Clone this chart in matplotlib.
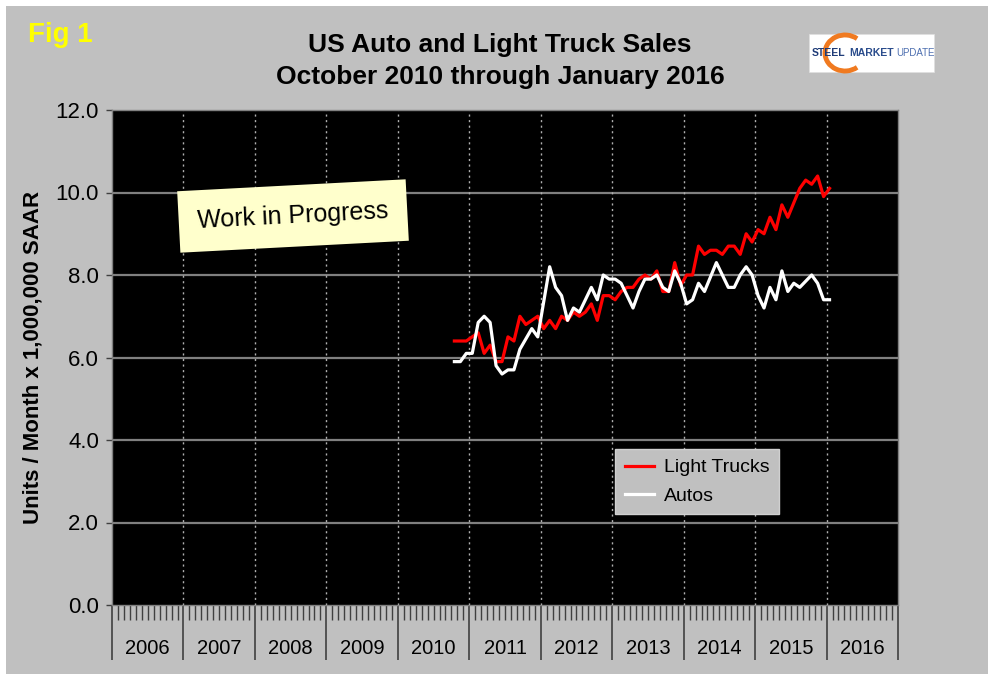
import matplotlib
matplotlib.use("Agg")
import matplotlib.pyplot as plt
from matplotlib.patches import Rectangle, Arc
import matplotlib.transforms as mtransforms
import numpy as np
import pandas as pd

plt.rcParams['font.family'] = ['Liberation Sans', 'DejaVu Sans']

# ---- data (millions of units / month, SAAR) ----
start_month = "2010-10"
end_month = "2016-01"
light_trucks = [6.4, 6.4, 6.4, 6.5, 6.6, 6.1, 6.3, 5.9, 5.9, 6.5, 6.4, 7.0,
                6.8, 6.9, 7.0, 6.7, 6.9, 6.7, 7.0, 6.9, 7.1, 7.0, 7.1, 7.3,
                6.9, 7.5, 7.5, 7.4, 7.6, 7.7, 7.7, 7.9, 8.0, 7.9, 8.1, 7.6,
                7.6, 8.3, 7.75, 8.0, 8.0, 8.7, 8.5, 8.6, 8.6, 8.5, 8.7, 8.7,
                8.5, 9.0, 8.8, 9.1, 9.0, 9.4, 9.1, 9.7, 9.4, 9.75, 10.1, 10.3,
                10.2, 10.4, 9.9, 10.1]
autos = [5.9, 5.9, 6.1, 6.1, 6.85, 7.0, 6.85, 5.8, 5.6, 5.7, 5.7, 6.2,
         6.45, 6.7, 6.5, 7.35, 8.2, 7.7, 7.5, 6.9, 7.2, 7.1, 7.4, 7.7,
         7.4, 8.0, 7.9, 7.9, 7.8, 7.5, 7.2, 7.6, 7.9, 7.9, 8.0, 7.7,
         7.6, 8.1, 7.8, 7.3, 7.4, 7.8, 7.6, 7.95, 8.3, 8.0, 7.7, 7.7,
         8.0, 8.2, 8.0, 7.5, 7.2, 7.7, 7.4, 8.1, 7.6, 7.8, 7.7, 7.85,
         8.0, 7.8, 7.4, 7.4]
years = list(range(2006, 2017))
y_ticks = [0, 2, 4, 6, 8, 10, 12]

months = pd.period_range(start_month, end_month, freq="M")
first_year = years[0]
xpos = np.array([(p.year - first_year) * 12 + (p.month - 1) + 0.5 for p in months])
nmonths = len(years) * 12

W, H = 996, 681
PX = 72 / 100  # points per pixel
fig = plt.figure(figsize=(W / 100, H / 100), dpi=100, facecolor="white")
fig.add_artist(Rectangle((6 / W, 1 - 674 / H), (988 - 6) / W, (674 - 6) / H,
                         transform=fig.transFigure, facecolor="#c0c0c0",
                         edgecolor="none", zorder=-10))

ax = fig.add_axes([112 / W, 1 - 605 / H, (898 - 112) / W, (605 - 110) / H])
ax.set_facecolor("black")
ax.set_xlim(0, nmonths)
ax.set_ylim(0, 12)

# grid
for yv in y_ticks[1:-1]:
    ax.axhline(yv, color="#808080", lw=1.6, zorder=1)
for k in range(1, len(years)):
    ax.axvline(k * 12, color="#b0b0b0", lw=1.0, ls=(0, (1.5, 2.5)), zorder=1)

ax.plot(xpos, light_trucks, color="#ff0000", lw=2.3, label="Light Trucks", zorder=3)
ax.plot(xpos, autos, color="white", lw=2.3, label="Autos", zorder=4)

# y axis
ax.set_yticks(y_ticks)
ax.set_yticklabels([f"{v:.1f}" for v in y_ticks], fontsize=16)
ax.tick_params(axis="y", direction="out", length=6 * PX, width=1, color="#404040", pad=5)

# x axis: year separators and month ticks
ax.set_xticks([k * 12 for k in range(len(years) + 1)])
ax.set_xticklabels([])
ax.set_xticks(np.arange(0, nmonths + 1), minor=True)
ax.tick_params(axis="x", which="major", direction="out", length=55 * PX, width=1.2, color="#404040")
ax.tick_params(axis="x", which="minor", direction="out", length=15 * PX, width=1, color="#404040")
trans = mtransforms.blended_transform_factory(ax.transData, ax.transAxes)
for k, yr in enumerate(years):
    ax.text(k * 12 + 6, -0.087, str(yr), transform=trans, ha="center", va="center",
            fontsize=14.5, color="black")

for s in ax.spines.values():
    s.set_color("#808080")
    s.set_linewidth(1)

# legend
leg = ax.legend(loc="upper left", bbox_to_anchor=(0.640, 0.315), borderaxespad=0,
                fontsize=14, frameon=True, fancybox=False, facecolor="#c0c0c0",
                edgecolor="#d0d0d0", framealpha=1, handlelength=1.5,
                borderpad=0.5, labelspacing=0.55, handletextpad=0.5)
leg.get_frame().set_linewidth(1)
for t in leg.get_texts():
    t.set_color("black")

# labels / titles
fig.text(33 / W, 1 - 357 / H, "Units / Month x 1,000,000 SAAR", rotation=90,
         ha="center", va="center", fontsize=16, fontweight="bold")
fig.text(500 / W, 1 - 45 / H, "US Auto and Light Truck Sales", ha="center",
         va="center", fontsize=19, fontweight="bold")
fig.text(500 / W, 1 - 77 / H, "October 2010 through January 2016", ha="center",
         va="center", fontsize=19, fontweight="bold")
fig.text(60 / W, 1 - 35 / H, "Fig 1", ha="center", va="center", fontsize=20,
         fontweight="bold", color="#ffff00")

# work in progress note
fig.text(293 / W, 1 - 216 / H, "Work in Progress", ha="center", va="center",
         fontsize=18, rotation=3, rotation_mode="anchor", color="black",
         bbox=dict(boxstyle="square,pad=0.75", facecolor="#ffffcc", edgecolor="none"))

# logo
fig.add_artist(Rectangle((809 / W, 1 - 72 / H), 125 / W, 38 / H,
                         transform=fig.transFigure, facecolor="white",
                         edgecolor="#e0e0e0", lw=0.5))
fig.add_artist(Arc((845 / W, 1 - 53 / H), 40 / W, 36 / H, theta1=60, theta2=300,
                   transform=fig.transFigure, color="#f07a20", lw=3.5))
fig.text(812 / W, 1 - 53 / H, "STEEL", ha="left", va="center", fontsize=7.5,
         fontweight="bold", color="#1f3c78")
fig.text(849 / W, 1 - 53 / H, "MARKET", ha="left", va="center", fontsize=7.5,
         fontweight="bold", color="#2a4c8c")
fig.text(896 / W, 1 - 53 / H, "UPDATE", ha="left", va="center", fontsize=7,
         color="#4d6fb0")

fig.savefig("out.png", dpi=100, facecolor=fig.get_facecolor())
